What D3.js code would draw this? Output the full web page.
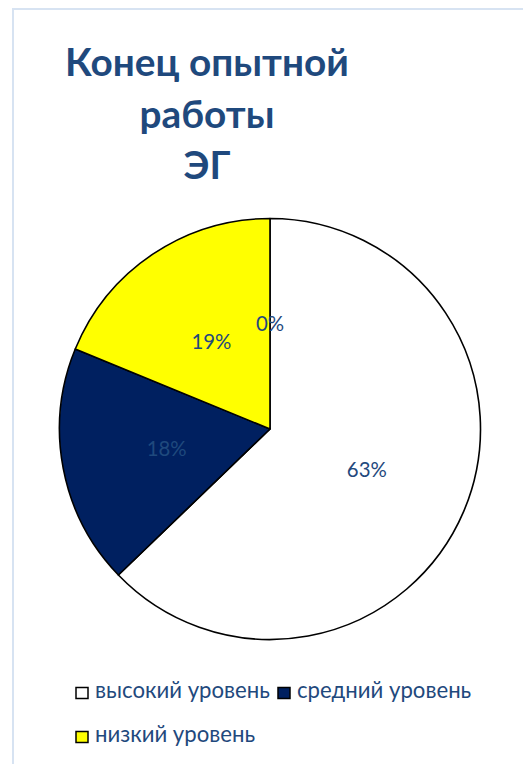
<!DOCTYPE html>
<html>
<head>
<meta charset="utf-8">
<script src="https://cdn.jsdelivr.net/npm/d3@7"></script>
<style>
html,body{margin:0;padding:0;background:#fff;}
svg{display:block;}
</style>
</head>
<body>
<svg id="chart" width="523" height="764"></svg>
<script>
// ---- data ----
const titleLines = ["Конец опытной", "работы", "ЭГ"];
const categories = ["высокий уровень", "средний уровень", "низкий уровень", ""];
const values = [62.8, 18.4, 18.8, 0];
const colors = ["#ffffff", "#002060", "#ffff00", "#ffffff"];

const svg = d3.select("#chart");
const textColor = "#1f497d";
const font = "Lato, 'Open Sans', sans-serif";

// chart frame
svg.append("rect")
  .attr("x", 13).attr("y", 9)
  .attr("width", 540).attr("height", 780)
  .attr("fill", "#fff")
  .attr("stroke", "#d7e3f2").attr("stroke-width", 2);

function fitSize(text, weight, target, base) {
  const t = svg.append("text").attr("font-family", font).attr("font-weight", weight)
    .attr("font-size", base).text(text);
  const w = t.node().getComputedTextLength();
  t.remove();
  return base * target / w;
}

// title
const titleSize = fitSize(titleLines[0], "bold", 284, 40);
const titleBase = [76, 128, 179];
svg.append("g").selectAll("text").data(titleLines).join("text")
  .attr("x", 207).attr("y", (d, i) => titleBase[i])
  .attr("text-anchor", "middle")
  .attr("font-family", font).attr("font-weight", "bold")
  .attr("font-size", titleSize)
  .attr("fill", textColor)
  .text(d => d);

// pie
const cx = 270, cy = 429, r = 210.5;
const pie = d3.pie().sort(null).value(d => d.v);
const data = values.map((v, i) => ({ v, name: categories[i], color: colors[i] }));
const arcs = pie(data);
const arc = d3.arc().innerRadius(0).outerRadius(r);
const labelArc = d3.arc().innerRadius(0).outerRadius(r);

const g = svg.append("g").attr("transform", `translate(${cx},${cy})`);
g.selectAll("path").data(arcs.filter(a => a.data.v > 0)).join("path")
  .attr("d", arc)
  .attr("fill", d => d.data.color)
  .attr("stroke", "#000").attr("stroke-width", 1.6)
  .attr("stroke-linejoin", "round");

const labelSize = fitSize("63%", "normal", 40, 20);
const total = d3.sum(values);
g.selectAll("text").data(arcs).join("text")
  .attr("transform", d => `translate(${labelArc.centroid(d)})`)
  .attr("text-anchor", "middle")
  .attr("dy", "0.35em")
  .attr("font-family", font)
  .attr("font-size", labelSize)
  .attr("fill", textColor)
  .text(d => Math.round(d.data.v / total * 100) + "%");

// legend
const legendItems = data.filter(d => d.name);
const legendSize = fitSize(legendItems[0].name, "normal", 175, 18);
const colX = [76, 278], rowY = [698, 742];
const lg = svg.append("g").selectAll("g").data(legendItems).join("g")
  .attr("transform", (d, i) => `translate(${colX[i % 2]},${rowY[Math.floor(i / 2)]})`);
lg.append("rect")
  .attr("x", 0).attr("y", -10.5).attr("width", 12).attr("height", 11)
  .attr("fill", d => d.color).attr("stroke", "#000").attr("stroke-width", 1.5);
lg.append("text")
  .attr("x", 19).attr("y", 0)
  .attr("font-family", font).attr("font-size", legendSize)
  .attr("fill", textColor)
  .text(d => d.name);
</script>
</body>
</html>
